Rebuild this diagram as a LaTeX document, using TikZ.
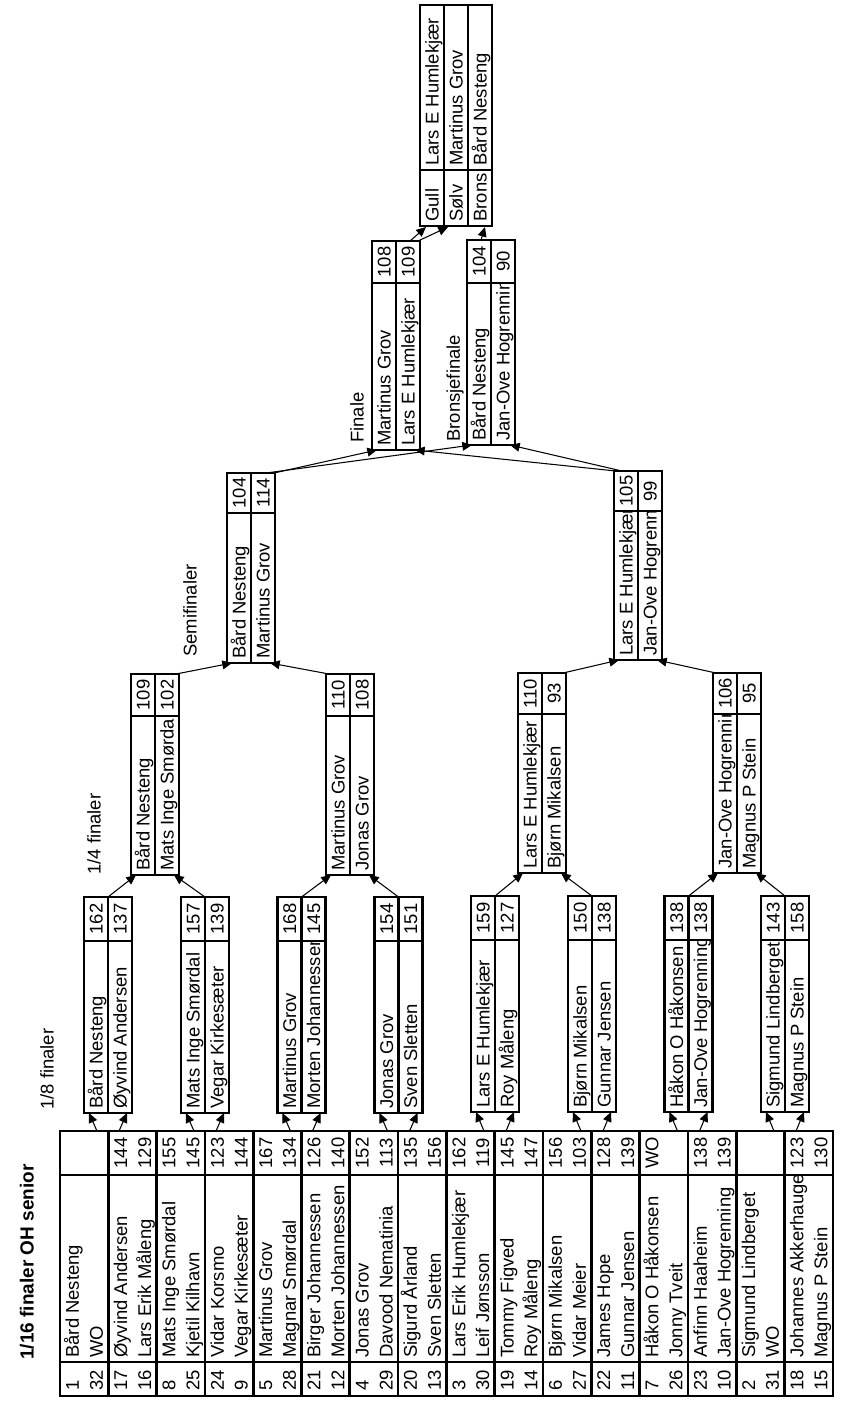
\documentclass[tikz,border=0pt]{standalone}
\usepackage{fontspec}
\setmainfont{Liberation Sans}
\usetikzlibrary{arrows.meta}
\tikzset{
  txt/.style={rotate=90, inner sep=0pt, text height=7.5pt, text depth=0pt, font=\fontsize{10.5}{12}\selectfont},
  lt/.style={txt, anchor=west},
  ct/.style={txt, anchor=center},
  frame/.style={line width=1.5pt, line join=miter},
  link/.style={line width=0.6pt, -{Triangle[length=5.5pt,width=5pt]}},
  lbl/.style={rotate=90, anchor=west, inner sep=0pt, font=\fontsize{10.5}{12}\selectfont},
}
\newcommand{\ctxt}[6]{%
  \begin{scope}
    \clip ({#2},{#3}) rectangle ({#4},{#5});
    \node[lt] (#1) at ({(#2+#4)/2},{#5-4}) {#6};
  \end{scope}}
\newcommand{\matchbox}[9]{%
  \ctxt{#1n1}{#2-24}{#4}{#2}{#5}{#6}
  \node[ct] (#1s1) at ({#2-12},{(#3+#4)/2}) {#7};
  \ctxt{#1n2}{#2}{#4}{#2+24}{#5}{#8}
  \node[ct] (#1s2) at ({#2+12},{(#3+#4)/2}) {#9};
  \draw[frame] ({#2-24},{#3}) rectangle ({#2+24},{#5});
  \draw[frame] ({#2-24},{#4}) -- ({#2+24},{#4});
  \draw[frame] ({#2},{#3}) -- ({#2},{#5});
  \coordinate (#1top) at ({#2},{#3});
  \coordinate (#1tl) at ({#2-21},{#3});
  \coordinate (#1tr) at ({#2+21},{#3});
  \coordinate (#1bl) at ({#2-19},{#5});
  \coordinate (#1br) at ({#2+19},{#5});
}
\begin{document}
\begin{tikzpicture}[x=0.02cm, y=-0.02cm]
\fill[white] (0,0) rectangle (849,1401);
\useasboundingbox (0,0) rectangle (849,1401);

% ---------- labels ----------
\node[lbl, font=\fontsize{10.8}{12}\selectfont\bfseries] (title) at (27,1360) {1/16 finaler OH senior};
\node[lbl] (l8) at (47,1110) {1/8 finaler};
\node[lbl] (l4) at (94,875) {1/4 finaler};
\node[lbl] (lsf) at (190,657) {Semifinaler};
\node[lbl] (lf) at (357,443) {Finale};
\node[lbl] (lb) at (455,442) {Bronsjefinale};

% ---------- 1/16 table ----------
\foreach \sa/\na/\pa/\sb/\nb/\pb [count=\i from 0] in {
  1/Bård Nesteng/{}/32/WO/{},
  17/Øyvind Andersen/144/16/Lars Erik Måleng/129,
  8/Mats Inge Smørdal/155/25/Kjetil Kilhavn/145,
  24/Vidar Korsmo/123/9/Vegar Kirkesæter/144,
  5/Martinus Grov/167/28/Magnar Smørdal/134,
  21/Birger Johannessen/126/12/Morten Johannessen/140,
  4/Jonas Grov/152/29/Davood Nematinia/113,
  20/Sigurd Årland/135/13/Sven Sletten/156,
  3/Lars Erik Humlekjær/162/30/Leif Jønsson/119,
  19/Tommy Figved/145/14/Roy Måleng/147,
  6/Bjørn Mikalsen/156/27/Vidar Meier/103,
  22/James Hope/128/11/Gunnar Jensen/139,
  7/Håkon O Håkonsen/WO/26/Jonny Tveit/{},
  23/Anfinn Haaheim/138/10/Jan-Ove Hogrenning/139,
  2/Sigmund Lindberget/{}/31/WO/{},
  18/Johannes Akkerhauge/123/15/Magnus P Stein/130}{
  \pgfmathsetmacro{\ra}{60+48.3*\i+12.3}
  \pgfmathsetmacro{\rb}{60+48.3*\i+36.2}
  \node[lt] (tsa\i) at (\ra,1391) {\sa};
  \node[lt] (tna\i) at (\ra,1358) {\na};
  \node[ct] (tpa\i) at (\ra,1153) {\pa};
  \node[lt] (tsb\i) at (\rb,1391) {\sb};
  \node[lt] (tnb\i) at (\rb,1358) {\nb};
  \node[ct] (tpb\i) at (\rb,1153) {\pb};
}
\draw[frame] (60,1131) rectangle (833,1396);
\draw[frame] (60,1175) -- (833,1175);
\draw[frame] (60,1362) -- (833,1362);
\foreach \k in {1,...,15}{
  \draw[frame] ({60+48.3*\k},1131) -- ({60+48.3*\k},1396);
}

% ---------- 1/8 finaler ----------
\matchbox{b0}{108}{897}{941}{1113}{Bård Nesteng}{162}{Øyvind Andersen}{137}
\matchbox{b1}{205}{897}{941}{1113}{Mats Inge Smørdal}{157}{Vegar Kirkesæter}{139}
\matchbox{b2}{301.5}{897}{941}{1113}{Martinus Grov}{168}{Morten Johannessen}{145}
\matchbox{b3}{398.5}{897}{941}{1113}{Jonas Grov}{154}{Sven Sletten}{151}
\matchbox{b4}{495}{896}{940}{1112}{Lars E Humlekjær}{159}{Roy Måleng}{127}
\matchbox{b5}{592}{896}{940}{1112}{Bjørn Mikalsen}{150}{Gunnar Jensen}{138}
\matchbox{b6}{688.5}{896}{940}{1112}{Håkon O Håkonsen}{138}{Jan-Ove Hogrenning}{138}
\matchbox{b7}{785}{896}{940}{1112}{Sigmund Lindberget}{143}{Magnus P Stein}{158}

\foreach \j/\c in {0/108,1/205,2/301.5,3/398.5,4/495,5/592,6/688.5,7/785}{
  \coordinate (ea\j) at ({\c-11},1131);
  \coordinate (eb\j) at ({\c+11},1131);
  \draw[link] (ea\j) -- (b\j bl);
  \draw[link] (eb\j) -- (b\j br);
}

% ---------- 1/4 finaler ----------
\matchbox{q0}{155}{674}{716}{875}{Bård Nesteng}{109}{Mats Inge Smørdal}{102}
\matchbox{q1}{350}{674}{716}{875}{Martinus Grov}{110}{Jonas Grov}{108}
\matchbox{q2}{542}{673}{714}{873}{Lars E Humlekjær}{110}{Bjørn Mikalsen}{93}
\matchbox{q3}{737}{673}{714}{873}{Jan-Ove Hogrenning}{106}{Magnus P Stein}{95}

\draw[link] (b0top) -- (q0bl);
\draw[link] (b1top) -- (q0br);
\draw[link] (b2top) -- (q1bl);
\draw[link] (b3top) -- (q1br);
\draw[link] (b4top) -- (q2bl);
\draw[link] (b5top) -- (q2br);
\draw[link] (b6top) -- (q3bl);
\draw[link] (b7top) -- (q3br);

% ---------- Semifinaler ----------
\matchbox{s0}{251}{473}{513}{663}{Bård Nesteng}{104}{Martinus Grov}{114}
\matchbox{s1}{638}{471}{511}{660}{Lars E Humlekjær}{105}{Jan-Ove Hogrenning}{99}

\draw[link] (q0tr) -- (s0bl);
\draw[link] (q1tl) -- (s0br);
\draw[link] (q2tr) -- (s1bl);
\draw[link] (q3tl) -- (s1br);

% ---------- Finale / Bronsjefinale ----------
\matchbox{f}{396}{241}{283}{450}{Martinus Grov}{108}{Lars E Humlekjær}{109}
\matchbox{br}{491}{240}{283}{445}{Bård Nesteng}{104}{Jan-Ove Hogrenning}{90}

\coordinate (s0o1) at (266,473);
\coordinate (s0o2) at (274,473);
\coordinate (s1o1) at (616,471);
\coordinate (s1o2) at (622,471);
\draw[link] (s0o2) -- (fbl);
\draw[link] (s0o1) -- (brbl);
\draw[link] (s1o1) -- (fbr);
\draw[link] (s1o2) -- (brbr);

% ---------- Medaljer ----------
\ctxt{mg}{420}{5}{444}{170}{Lars E Humlekjær}
\ctxt{ms}{444}{5}{468}{170}{Martinus Grov}
\ctxt{mb}{468}{5}{492}{170}{Bård Nesteng}
\ctxt{mgl}{420}{170}{444}{226}{Gull}
\ctxt{msl}{444}{170}{468}{226}{Sølv}
\ctxt{mbl}{468}{170}{492}{226}{Brons}
\draw[frame] (420,5) rectangle (492,226);
\draw[frame] (444,5) -- (444,226);
\draw[frame] (468,5) -- (468,226);
\draw[frame] (420,170) -- (492,170);
\coordinate (mgin) at (426,227);
\coordinate (msin) at (448,227);
\coordinate (mbin) at (485,227);
\coordinate (fo1) at (410,241);
\coordinate (fo2) at (418,241);
\coordinate (bro) at (481,240);
\draw[link] (fo1) -- (mgin);
\draw[link] (fo2) -- (msin);
\draw[link] (bro) -- (mbin);
\end{tikzpicture}
\end{document}
